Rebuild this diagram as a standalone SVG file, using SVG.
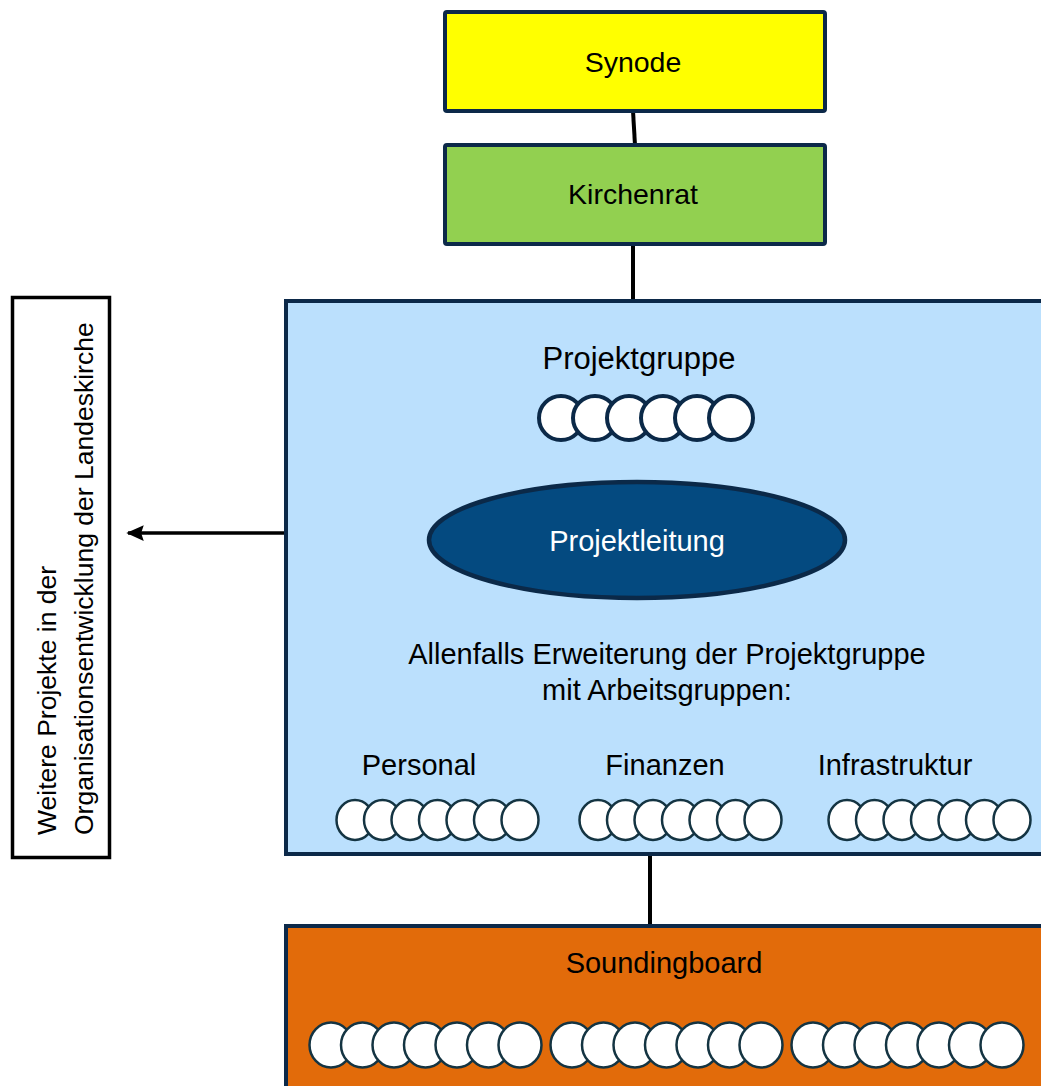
<svg xmlns="http://www.w3.org/2000/svg" width="1041" height="1086" viewBox="0 0 1041 1086">
<defs>
<style>
.box{stroke:#0c2949;stroke-width:4}
.t{font-family:"Liberation Sans",Arial,sans-serif;fill:#000;text-anchor:middle}
.pg{fill:#fff;stroke:#0b2948;stroke-width:4}
.sm{fill:#fff;stroke:#143442;stroke-width:2.5}
.conn{stroke:#000;stroke-width:4;fill:none}
</style>
<marker id="ah" viewBox="0 0 10 10" refX="9" refY="5" markerWidth="5" markerHeight="5" markerUnits="strokeWidth" orient="auto">
<path d="M0,0.5 L10,5 L0,9.5 L1.5,5 Z" fill="#000"/>
</marker>
</defs>
<rect width="1041" height="1086" fill="#fff"/>

<g id="connectors">
<line class="conn" x1="633" y1="111" x2="635" y2="145"/>
<line class="conn" x1="633" y1="244" x2="633" y2="300"/>
<line class="conn" x1="650" y1="855" x2="650" y2="925"/>
<line x1="285" y1="533" x2="128" y2="533" stroke="#000" stroke-width="3.5" marker-end="url(#ah)"/>
</g>

<g id="synode">
<rect class="box" x="445" y="12" width="380" height="99" fill="#ffff00" rx="2"/>
<text class="t" x="633" y="72" font-size="28.5">Synode</text>
</g>

<g id="kirchenrat">
<rect class="box" x="445" y="145" width="380" height="99" fill="#92d050" rx="2"/>
<text class="t" x="633" y="204" font-size="28.5">Kirchenrat</text>
</g>

<g id="weitere-projekte">
<rect x="12.5" y="297.5" width="97" height="560" fill="#fff" stroke="#000" stroke-width="3.5"/>
<text class="t" style="text-anchor:start" font-size="26.5" transform="translate(56,835) rotate(-90)">Weitere Projekte in der</text>
<text class="t" style="text-anchor:start" font-size="26.5" transform="translate(93,835) rotate(-90)">Organisationsentwicklung der Landeskirche</text>
</g>

<g id="projektgruppe">
<rect class="box" x="286" y="301" width="770" height="553" fill="#bbe0fd"/>
<text class="t" x="639" y="369" font-size="31">Projektgruppe</text>
<g id="pg-members">
<circle class="pg" cx="561" cy="418" r="22"/>
<circle class="pg" cx="595" cy="418" r="22"/>
<circle class="pg" cx="629" cy="418" r="22"/>
<circle class="pg" cx="663" cy="418" r="22"/>
<circle class="pg" cx="697" cy="418" r="22"/>
<circle class="pg" cx="731" cy="418" r="22"/>
</g>
<text class="t" x="667" y="664" font-size="29">Allenfalls Erweiterung der Projektgruppe</text>
<text class="t" x="667" y="700" font-size="29">mit Arbeitsgruppen:</text>
</g>

<g id="projektleitung">
<ellipse cx="637" cy="540" rx="208" ry="58" fill="#044a80" stroke="#0b2948" stroke-width="4.5"/>
<text class="t" x="637" y="551" font-size="29" style="fill:#fff">Projektleitung</text>
</g>

<g id="personal">
<text class="t" x="419" y="775" font-size="29">Personal</text>
<ellipse class="sm" cx="355" cy="820" rx="18.5" ry="20"/>
<ellipse class="sm" cx="382.5" cy="820" rx="18.5" ry="20"/>
<ellipse class="sm" cx="410" cy="820" rx="18.5" ry="20"/>
<ellipse class="sm" cx="437.5" cy="820" rx="18.5" ry="20"/>
<ellipse class="sm" cx="465" cy="820" rx="18.5" ry="20"/>
<ellipse class="sm" cx="492.5" cy="820" rx="18.5" ry="20"/>
<ellipse class="sm" cx="520" cy="820" rx="18.5" ry="20"/>
</g>

<g id="finanzen">
<text class="t" x="665" y="775" font-size="29">Finanzen</text>
<ellipse class="sm" cx="598" cy="820" rx="18.5" ry="20"/>
<ellipse class="sm" cx="625.5" cy="820" rx="18.5" ry="20"/>
<ellipse class="sm" cx="653" cy="820" rx="18.5" ry="20"/>
<ellipse class="sm" cx="680.5" cy="820" rx="18.5" ry="20"/>
<ellipse class="sm" cx="708" cy="820" rx="18.5" ry="20"/>
<ellipse class="sm" cx="735.5" cy="820" rx="18.5" ry="20"/>
<ellipse class="sm" cx="763" cy="820" rx="18.5" ry="20"/>
</g>

<g id="infrastruktur">
<text class="t" x="895" y="775" font-size="29">Infrastruktur</text>
<ellipse class="sm" cx="847" cy="820" rx="18.5" ry="20"/>
<ellipse class="sm" cx="874.5" cy="820" rx="18.5" ry="20"/>
<ellipse class="sm" cx="902" cy="820" rx="18.5" ry="20"/>
<ellipse class="sm" cx="929.5" cy="820" rx="18.5" ry="20"/>
<ellipse class="sm" cx="957" cy="820" rx="18.5" ry="20"/>
<ellipse class="sm" cx="984.5" cy="820" rx="18.5" ry="20"/>
<ellipse class="sm" cx="1012" cy="820" rx="18.5" ry="20"/>
</g>

<g id="soundingboard">
<rect class="box" x="286" y="926" width="770" height="200" fill="#e26b0a"/>
<text class="t" x="664" y="973" font-size="29">Soundingboard</text>
<g id="sb-members">
<ellipse class="sm" cx="331" cy="1045" rx="21.5" ry="22.5"/>
<ellipse class="sm" cx="362.5" cy="1045" rx="21.5" ry="22.5"/>
<ellipse class="sm" cx="394" cy="1045" rx="21.5" ry="22.5"/>
<ellipse class="sm" cx="425.5" cy="1045" rx="21.5" ry="22.5"/>
<ellipse class="sm" cx="457" cy="1045" rx="21.5" ry="22.5"/>
<ellipse class="sm" cx="488.5" cy="1045" rx="21.5" ry="22.5"/>
<ellipse class="sm" cx="520" cy="1045" rx="21.5" ry="22.5"/>
<ellipse class="sm" cx="572" cy="1045" rx="21.5" ry="22.5"/>
<ellipse class="sm" cx="603.5" cy="1045" rx="21.5" ry="22.5"/>
<ellipse class="sm" cx="635" cy="1045" rx="21.5" ry="22.5"/>
<ellipse class="sm" cx="666.5" cy="1045" rx="21.5" ry="22.5"/>
<ellipse class="sm" cx="698" cy="1045" rx="21.5" ry="22.5"/>
<ellipse class="sm" cx="729.5" cy="1045" rx="21.5" ry="22.5"/>
<ellipse class="sm" cx="761" cy="1045" rx="21.5" ry="22.5"/>
<ellipse class="sm" cx="813" cy="1045" rx="21.5" ry="22.5"/>
<ellipse class="sm" cx="844.5" cy="1045" rx="21.5" ry="22.5"/>
<ellipse class="sm" cx="876" cy="1045" rx="21.5" ry="22.5"/>
<ellipse class="sm" cx="907.5" cy="1045" rx="21.5" ry="22.5"/>
<ellipse class="sm" cx="939" cy="1045" rx="21.5" ry="22.5"/>
<ellipse class="sm" cx="970.5" cy="1045" rx="21.5" ry="22.5"/>
<ellipse class="sm" cx="1002" cy="1045" rx="21.5" ry="22.5"/>
</g>
</g>
</svg>
